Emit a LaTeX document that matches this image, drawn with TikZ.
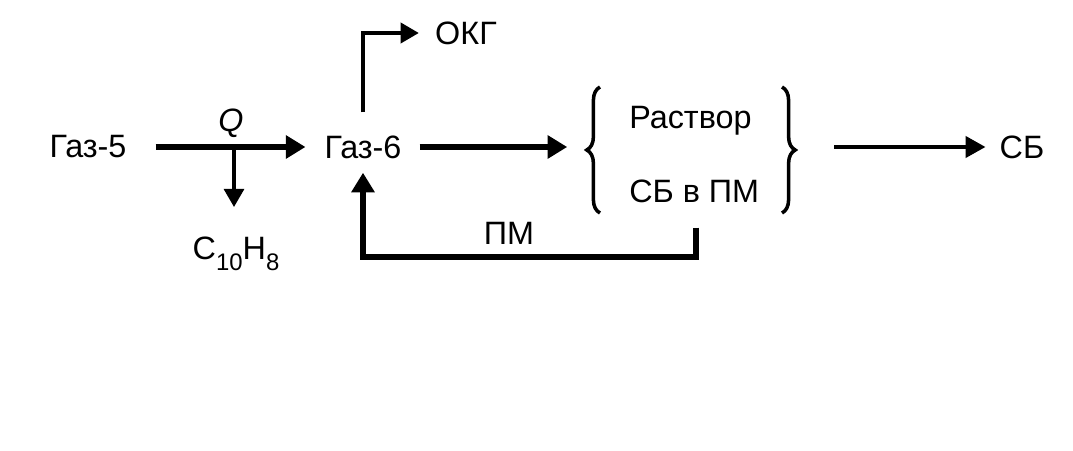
\documentclass[tikz,border=0pt]{standalone}
\usepackage{fontspec}
\setmainfont{Liberation Sans}
\usetikzlibrary{arrows.meta,decorations.pathreplacing,calc}

\begin{document}
\begin{tikzpicture}[x=0.025cm,y=-0.025cm,
    lbl/.style={inner sep=0pt,font=\fontsize{23}{27}\selectfont},
    flow/.style={line width=4pt,-{Triangle[length=14pt,width=16pt]}},
    thinflow/.style={line width=2.4pt,-{Triangle[length=14pt,width=15pt]}},
    curly/.style={line width=2.5pt,decorate,decoration={brace,amplitude=0.33cm}}]
    \useasboundingbox (0,0) rectangle (1073,451);
    % substances
    \node[lbl] (gas5) at (88,147)  {Газ-5};
    \node[lbl] (gas6) at (363,147) {Газ-6};
    \node[lbl] (okg)  at (466,33)  {ОКГ};
    \node[lbl,anchor=base] (naph) at (236,260) {C\raisebox{-0.6ex}{\fontsize{17}{19}\selectfont 10}H\raisebox{-0.6ex}{\fontsize{17}{19}\selectfont 8}};
    \node[lbl,anchor=west] (sol)  at (629,121) {Раствор};
    \node[lbl,anchor=west] (sbpm) at (629,191) {СБ в ПМ};
    \node[lbl] (sb)   at (1022,147) {СБ};
    \node[lbl,font=\fontsize{23}{27}\selectfont\itshape] (q) at (231,123) {Q};
    \node[lbl] (pm)   at (509,233) {ПМ};
    % braces
    \draw[curly] (600,213) -- (600,87);
    \draw[curly] (782,87) -- (782,213);
    \coordinate (lbtip) at (588,147);
    \coordinate (rbtip) at (798,147);
    \coordinate (split) at (234,147);
    \coordinate (fb)    at (696,257);
    % flows
    \draw[flow,shorten <=0.72cm,shorten >=0.47cm] (gas5) -- (gas6);
    \draw[line width=3pt,-{Triangle[length=13pt,width=14pt]},shorten >=0.75cm] (split) -- (split |- naph.north);
    \draw[line width=3.5pt,-{Triangle[length=13pt,width=14pt]},shorten <=0.57cm,shorten >=0.4cm] (gas6.north) |- (okg.west);
    \draw[flow,shorten <=0.45cm,shorten >=0.52cm] (gas6) -- (lbtip);
    \draw[flow,line width=4.5pt,shorten <=0.62cm,shorten >=0.35cm] (sbpm.south -| fb) -- (fb) -| (gas6.south);
    \draw[thinflow,shorten <=0.9cm,shorten >=0.35cm] (rbtip) -- (sb);
\end{tikzpicture}
\end{document}
